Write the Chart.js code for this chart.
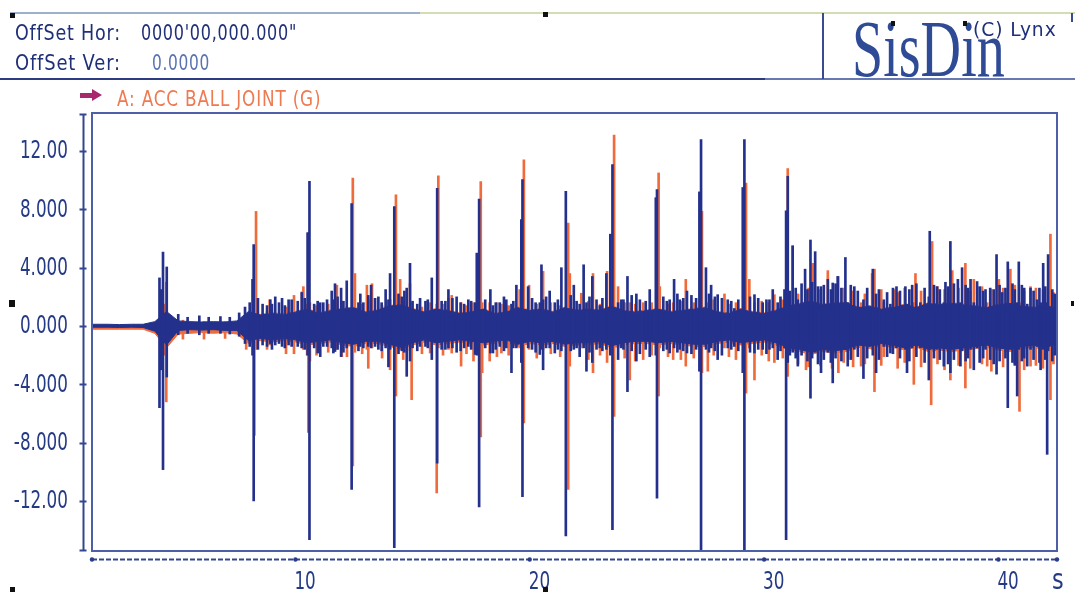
<!DOCTYPE html>
<html>
<head>
<meta charset="utf-8">
<script src="https://cdn.jsdelivr.net/npm/chart.js@4/dist/chart.umd.min.js"></script>
<style>
  html, body { margin:0; padding:0; background:#fff; }
  body { width:1075px; height:592px; position:relative; overflow:hidden; }
  #c { position:absolute; left:0; top:0; }
  .t { position:absolute; display:inline-block; white-space:nowrap; line-height:1; font-family:"DejaVu Sans",sans-serif; color:#1f2f78; transform-origin:0 0; }
  .ln { position:absolute; }
  .mk { position:absolute; width:5px; height:5px; background:#111; }
</style>
</head>
<body>
<canvas id="c" width="1075" height="592"></canvas>

<!-- header frame -->
<div class="ln" style="left:10px;top:12px;width:410px;height:2px;background:#9fb0cc"></div>
<div class="ln" style="left:420px;top:12px;width:655px;height:2px;background:#d3ddb4"></div>
<div class="ln" style="left:0px;top:78px;width:765px;height:2px;background:#2c3b82"></div>
<div class="ln" style="left:765px;top:78px;width:310px;height:2px;background:#6878b0"></div>
<div class="ln" style="left:822px;top:13px;width:2px;height:66px;background:#3a4a90"></div>
<div class="ln" style="left:1071px;top:13px;width:2px;height:9px;background:#3a4a90"></div>

<div class="t" data-w="106" style="left:15px;top:22px;font-size:22px;letter-spacing:1px">OffSet Hor:</div>
<div class="t" data-w="156" style="left:141px;top:22px;font-size:22px;letter-spacing:1px">0000'00,000.000"</div>
<div class="t" data-w="106" style="left:15px;top:52px;font-size:22px;letter-spacing:1px">OffSet Ver:</div>
<div class="t" data-w="58" style="left:152px;top:52px;font-size:22px;letter-spacing:1px;color:#5a72b0">0.0000</div>

<div class="t" data-w="153" data-sy="1.45" style="left:852px;top:30px;font-family:'Liberation Serif','DejaVu Serif',serif;font-size:55px;color:#2f4b96;transform-origin:0 46px">SisDin</div>
<div class="t" data-w="84" style="left:973px;top:19px;font-size:20px;letter-spacing:1px;color:#1f2f78">(C) Lynx</div>
<div class="mk" style="left:891px;top:21px;width:4px;height:5px"></div>
<div class="mk" style="left:963px;top:21px;width:4px;height:5px"></div>

<!-- legend -->
<div class="ln" style="left:80px;top:93px;width:12px;height:5px;background:#a8286e"></div>
<div class="ln" style="left:92px;top:89px;width:0;height:0;border-top:6.5px solid transparent;border-bottom:6.5px solid transparent;border-left:10px solid #a8286e"></div>
<div class="t" data-w="204" style="left:117px;top:89px;font-size:21px;letter-spacing:1px;color:#ee7a52">A: ACC BALL JOINT (G)</div>

<div class="t" data-w="12" style="left:1052px;top:566px;font-size:28px;color:#243a85">s</div>

<!-- scan markers -->
<div class="mk" style="left:10px;top:13px"></div>
<div class="mk" style="left:543px;top:12px"></div>
<div class="mk" style="left:9px;top:300px;width:6px;height:7px"></div>
<div class="mk" style="left:1071px;top:301px;width:3px"></div>
<div class="mk" style="left:10px;top:587px"></div>
<div class="mk" style="left:543px;top:587px"></div>

<script>
// ---------------- data ----------------
const xTickValues = [10, 20, 30, 40];
const xTickLabels = ['10', '20', '30', '40'];
const yTickValues = [12, 8, 4, 0, -4, -8, -12];
const yTickLabels = ['12.00', '8.000', '4.000', '0.000', '-4.000', '-8.000', '-12.00'];

// dense core of the signal, 0.5 s bins (time, s)
const coreT = [1.3,2.0,2.5,3.0,3.5,4.0,4.5,5.0,5.5,6.0,6.5,7.0,7.5,8.0,
  8.5,9.0,9.5,10.0,10.5,11.0,11.5,12.0,12.5,13.0,13.5,14.0,14.5,15.0,15.5,16.0,16.5,17.0,17.5,18.0,
  18.5,19.0,19.5,20.0,20.5,21.0,21.5,22.0,22.5,23.0,23.5,24.0,24.5,25.0,25.5,26.0,26.5,27.0,27.5,28.0,
  28.5,29.0,29.5,30.0,30.5,31.0,31.5,32.0,32.5,33.0,33.5,34.0,34.5,35.0,35.5,36.0,36.5,37.0,37.5,38.0,
  38.5,39.0,39.5,40.0,40.5,41.0,41.5,42.0,42.5];
const blueCoreHi = [0.12,0.12,0.1,0.12,0.12,0.3,1.0,0.35,0.3,0.28,0.3,0.28,0.35,1.0,
  0.75,0.85,0.75,0.95,1.15,0.85,1.05,1.15,1.25,0.95,1.05,1.35,1.45,1.15,0.95,1.15,1.05,0.85,0.95,1.15,
  0.85,0.95,1.25,1.05,1.15,0.95,1.25,1.05,1.15,1.05,1.35,1.05,0.95,1.05,1.15,0.95,1.05,1.15,1.25,0.95,
  0.85,1.15,0.95,0.85,1.05,1.35,1.5,1.7,1.45,1.55,1.6,1.25,1.35,1.15,1.25,1.45,1.25,1.55,1.45,1.55,
  1.45,1.35,1.25,1.45,1.55,1.35,1.25,1.45,1.15];
const blueCoreLo = [-0.08,-0.08,-0.1,-0.08,-0.1,-0.35,-1.3,-0.3,-0.25,-0.28,-0.25,-0.3,-0.3,-1.0,
  -0.85,-0.95,-0.85,-0.95,-1.15,-1.05,-0.95,-1.15,-1.25,-1.05,-1.05,-1.25,-1.45,-1.15,-0.95,-1.15,-1.05,-0.95,-1.05,-1.15,
  -1.05,-0.95,-1.25,-1.05,-1.15,-1.05,-1.25,-1.15,-1.15,-1.05,-1.35,-1.15,-1.05,-1.05,-1.15,-1.05,-1.15,-1.25,-1.25,-1.05,
  -0.95,-1.15,-1.05,-0.95,-1.15,-1.45,-1.6,-1.8,-1.6,-1.7,-1.6,-1.3,-1.4,-1.2,-1.3,-1.5,-1.3,-1.6,-1.5,-1.6,
  -1.5,-1.4,-1.3,-1.5,-1.6,-1.4,-1.3,-1.5,-1.2];
const orangeCoreHi = [0.0,0.0,0.0,0.0,0.0,0.2,0.8,0.2,0.15,0.15,0.12,0.15,0.2,0.9,
  0.8,0.9,0.85,1.0,1.2,0.9,1.1,1.2,1.3,1.0,1.1,1.4,1.5,1.2,1.0,1.2,1.1,0.9,1.0,1.2,
  0.9,1.0,1.3,1.1,1.2,1.0,1.3,1.1,1.2,1.1,1.4,1.1,1.0,1.1,1.2,1.0,1.1,1.2,1.3,1.0,
  0.9,1.2,1.0,0.9,1.1,1.4,1.55,1.75,1.5,1.6,1.65,1.3,1.4,1.2,1.3,1.5,1.3,1.6,1.5,1.6,
  1.5,1.4,1.3,1.5,1.6,1.4,1.3,1.5,1.2];
const orangeCoreLo = [-0.22,-0.22,-0.22,-0.22,-0.22,-0.5,-1.5,-0.55,-0.5,-0.45,-0.5,-0.45,-0.55,-1.2,
  -1.0,-1.1,-1.0,-1.1,-1.3,-1.2,-1.1,-1.3,-1.4,-1.2,-1.2,-1.4,-1.6,-1.3,-1.1,-1.3,-1.2,-1.1,-1.2,-1.3,
  -1.2,-1.1,-1.4,-1.2,-1.3,-1.2,-1.4,-1.3,-1.3,-1.2,-1.5,-1.3,-1.2,-1.2,-1.3,-1.2,-1.3,-1.4,-1.4,-1.2,
  -1.1,-1.3,-1.2,-1.1,-1.3,-1.6,-1.75,-1.95,-1.75,-1.85,-1.75,-1.45,-1.55,-1.35,-1.45,-1.65,-1.45,-1.75,-1.65,-1.75,
  -1.65,-1.55,-1.45,-1.65,-1.75,-1.55,-1.45,-1.65,-1.35];

// individual peaks (time s, max G, min G)
const blueSpikeT = [4.20,4.28,4.35,4.51,5.00,5.40,5.90,6.30,6.80,7.20,7.60,7.85,8.05,8.17,8.22,8.40,8.79,8.93,9.00,9.14,9.43,9.71,9.84,10.27,10.52,10.60,10.95,11.06,11.19,
  11.55,11.62,11.69,11.95,12.19,12.40,12.69,12.77,13.11,13.23,13.54,13.68,13.85,13.97,14.04,14.22,14.54,14.75,14.89,15.32,
  15.55,15.82,16.05,16.24,16.53,16.88,17.38,17.67,17.74,17.84,18.32,18.43,18.72,19.00,19.22,19.43,19.64,19.69,19.93,20.43,
  20.50,20.57,20.85,21.07,21.35,21.54,21.88,22.13,22.30,22.42,22.67,22.99,23.27,23.44,23.53,23.77,23.91,24.17,24.55,25.12,
  25.38,25.43,25.97,26.16,26.40,26.71,27.24,27.31,27.52,27.74,28.02,28.45,28.73,29.09,29.16,29.59,29.94,30.23,30.37,30.58,
  30.87,30.94,31.01,31.22,31.44,31.75,31.98,32.18,32.43,32.72,32.93,33.14,33.47,33.57,33.85,34.24,34.64,34.78,35.11,35.39,
  35.65,36.03,36.10,36.32,36.67,37.03,37.07,37.38,37.67,37.74,37.95,38.27,38.38,38.45,38.81,38.95,39.09,39.45,39.92,40.16,
  40.40,40.80,40.87,41.23,41.37,41.65,41.80,41.91,42.08,42.12];
const blueSpikeHi = [3.3,2.5,5.07,4.05,0.8,0.6,0.7,0.6,0.65,0.6,0.9,1.3,1.6,3.2,5.58,1.9,1.4,1.8,1.5,2.0,1.9,1.8,1.8,2.3,6.4,9.92,1.7,1.6,1.6,
  2.4,1.8,2.9,2.6,3.1,8.4,1.6,2.2,2.1,2.8,2.0,1.6,2.5,1.8,3.6,8.2,2.0,2.6,4.3,1.9,
  1.7,3.3,9.45,1.7,2.5,2.0,1.8,1.6,5.0,8.7,2.5,1.4,1.6,1.8,1.5,2.8,7.3,10.04,2.7,1.6,
  4.2,1.8,2.4,1.6,4.0,9.24,2.8,1.5,4.2,1.6,3.4,1.4,3.6,6.3,11.07,1.6,1.8,3.4,2.2,2.5,
  8.8,9.35,1.8,3.2,1.8,2.4,9.2,12.78,4.0,2.8,2.15,1.8,1.2,9.5,12.78,2.15,1.6,1.8,2.5,1.6,
  2.5,7.9,10.27,5.5,1.8,3.9,5.9,5.1,2.7,3.2,2.95,3.4,4.7,1.6,2.7,1.8,3.9,2.2,1.8,1.5,
  2.7,2.7,1.5,2.8,1.6,2.0,6.5,2.7,1.6,3.0,5.8,3.2,1.6,4.0,3.2,1.6,3.05,2.5,4.9,2.3,
  4.4,1.6,4.4,1.5,2.6,1.8,1.6,4.3,1.6,4.9];
const blueSpikeLo = [-5.6,-3.0,-9.85,-3.5,-0.6,-0.5,-0.6,-0.5,-0.5,-0.55,-0.7,-1.2,-1.4,-2.0,-12.0,-1.6,-1.4,-1.2,-1.6,-1.3,-1.4,-1.3,-1.4,-1.5,-2.0,-14.65,-1.85,-2.1,-1.4,
  -1.5,-1.85,-1.75,-2.1,-1.5,-11.2,-1.7,-1.4,-1.4,-1.5,-1.6,-1.7,-1.5,-2.8,-1.6,-15.2,-1.7,-3.45,-2.4,-1.4,
  -1.4,-2.3,-9.4,-1.6,-1.5,-1.8,-1.4,-1.95,-2.0,-12.4,-1.85,-1.85,-1.4,-1.5,-3.2,-1.5,-2.5,-11.7,-1.5,-1.95,
  -1.6,-3.0,-1.5,-1.85,-1.7,-14.4,-1.6,-2.1,-1.5,-3.1,-2.5,-1.5,-1.6,-2.0,-13.97,-2.3,-1.5,-4.5,-2.4,-2.1,
  -2.0,-11.8,-1.85,-1.5,-1.6,-1.85,-3.1,-15.5,-1.6,-1.5,-2.3,-1.5,-1.4,-3.2,-15.5,-1.85,-1.6,-1.6,-1.5,-2.3,
  -1.5,-14.65,-2.5,-1.8,-2.75,-1.6,-4.95,-1.8,-3.2,-1.8,-3.9,-1.6,-1.6,-2.75,-1.6,-3.6,-2.0,-3.2,-1.4,-1.85,
  -1.5,-1.6,-3.2,-1.5,-1.5,-3.7,-1.6,-1.6,-2.75,-1.4,-3.2,-1.5,-2.75,-1.7,-1.6,-3.0,-1.5,-1.6,-3.3,-1.5,
  -5.6,-4.8,-1.6,-2.75,-1.6,-1.4,-3.0,-1.6,-8.8,-1.7];

// smaller teeth on the dense band (time s, max G, min G)
const blueMinorT = [8.6,9.3,9.55,10.1,10.4,10.8,11.35,11.8,12.05,12.9,13.4,14.4,14.65,15.0,15.2,15.65,16.4,16.7,17.05,17.2,
  17.5,18.1,18.55,18.9,19.3,20.1,20.25,20.7,21.2,21.75,22.0,22.55,22.85,23.1,24.0,24.35,24.7,24.95,25.7,25.85,
  26.3,26.55,26.9,27.1,27.65,27.9,28.2,28.6,28.9,29.4,29.75,30.1,30.7,31.1,31.35,31.6,31.85,32.05,32.3,32.55,
  32.85,33.05,33.3,33.7,34.0,34.4,34.9,35.25,35.5,35.8,36.2,36.5,36.85,37.25,37.5,37.85,38.1,38.6,38.7,39.2,
  39.35,39.65,39.8,40.05,40.3,40.6,40.7,41.0,41.1,41.5,41.75,42.0,42.3,42.4];
const blueMinorHi = [1.5,1.6,1.4,1.7,1.9,1.5,1.8,2.0,1.7,1.6,1.9,2.2,2.4,1.7,1.5,1.8,1.7,1.9,1.6,1.5,
  1.7,1.8,1.6,2.0,1.7,1.9,1.6,2.0,1.8,2.1,1.7,2.0,1.8,1.9,1.8,2.1,1.8,1.7,2.0,1.7,
  2.2,1.9,2.1,1.9,2.2,2.0,1.9,1.7,1.8,2.0,1.9,1.8,2.0,2.4,2.6,2.9,2.5,3.0,2.7,2.8,
  2.5,2.9,2.6,2.8,2.4,2.6,2.5,2.3,2.6,2.4,2.5,2.9,2.6,2.8,2.5,2.7,2.9,2.8,2.6,2.7,
  2.4,2.6,2.5,2.8,2.6,2.9,2.5,2.8,2.6,2.4,2.6,2.7,2.5,2.2];
const blueMinorLo = [-1.3,-1.2,-1.5,-1.4,-1.6,-1.5,-1.4,-1.6,-1.8,-1.5,-1.4,-1.9,-1.8,-1.5,-1.7,-1.5,-1.6,-1.5,-1.7,-1.5,
  -1.6,-1.5,-1.6,-1.7,-1.5,-1.6,-1.8,-1.5,-1.6,-1.7,-1.5,-1.8,-1.6,-1.7,-1.6,-1.7,-1.9,-1.6,-1.7,-1.6,
  -1.8,-1.7,-1.9,-1.6,-1.8,-1.7,-2.0,-1.6,-1.7,-1.8,-1.6,-1.9,-1.7,-2.0,-2.2,-2.0,-2.4,-2.2,-2.6,-2.3,
  -2.5,-2.2,-2.4,-2.3,-2.1,-2.2,-2.3,-2.1,-1.9,-2.2,-2.4,-2.1,-2.5,-2.2,-2.3,-2.6,-2.3,-2.4,-2.2,-2.5,
  -2.2,-2.3,-2.6,-2.4,-2.2,-2.5,-2.7,-2.4,-2.2,-2.3,-2.5,-2.3,-2.4,-2.0];

const orangeSpikeT = [4.38,4.49,5.20,6.10,7.00,7.90,8.25,8.32,8.79,8.90,9.94,10.28,10.34,10.50,10.55,10.62,11.77,11.98,12.45,12.54,13.05,13.11,13.27,14.04,
  14.29,14.47,14.89,14.96,15.75,16.03,16.10,16.53,16.67,17.07,17.60,17.91,17.97,18.29,18.79,19.57,19.75,19.97,20.57,21.64,
  21.71,22.20,22.70,23.30,23.60,23.77,24.27,24.84,25.50,25.55,26.12,26.66,27.35,27.60,28.31,29.23,29.37,29.59,30.44,31.01,
  31.22,31.79,32.08,32.72,33.17,34.14,34.61,34.71,35.11,35.54,36.39,36.46,37.13,37.17,37.95,38.03,38.59,38.95,39.52,40.02,
  40.51,40.90,41.37,42.22];
const orangeSpikeHi = [1.5,3.0,0.4,0.3,0.3,0.8,2.0,7.86,1.0,1.8,2.1,2.35,2.7,1.5,6.4,1.6,2.8,1.7,10.15,3.6,2.8,1.8,2.9,1.8,
  9.0,3.2,2.9,1.6,1.6,1.5,10.3,1.9,2.1,1.6,1.6,9.9,1.6,1.6,1.5,2.5,11.4,2.8,3.75,7.06,
  3.6,2.25,3.6,3.75,13.1,2.7,1.6,1.6,10.5,2.7,1.6,3.2,7.86,1.6,2.2,9.8,3.2,1.6,2.15,10.8,
  5.5,1.6,4.3,3.8,3.4,1.6,3.6,3.9,1.6,2.5,1.6,3.6,1.6,5.8,1.6,3.8,4.3,3.2,1.6,3.2,
  3.9,1.6,2.7,6.3];
const orangeSpikeLo = [-2.0,-5.2,-0.9,-0.9,-0.85,-1.6,-7.5,-1.6,-1.6,-1.3,-1.9,-1.5,-1.6,-2.0,-7.3,-2.4,-1.6,-2.1,-9.6,-1.8,-1.6,-2.9,-1.5,-3.0,
  -4.8,-1.6,-1.7,-5.05,-1.85,-11.45,-1.5,-1.6,-1.85,-2.75,-2.4,-7.6,-3.2,-2.4,-1.85,-1.5,-6.65,-1.6,-1.6,-11.2,
  -2.75,-1.5,-3.2,-2.5,-6.2,-1.5,-3.7,-2.3,-4.8,-1.5,-2.3,-2.75,-3.2,-3.1,-1.5,-4.6,-1.5,-3.7,-2.5,-3.45,
  -1.6,-3.0,-1.6,-1.6,-3.2,-2.75,-1.6,-4.5,-2.1,-1.5,-4.0,-1.6,-5.4,-1.6,-3.7,-1.6,-4.25,-1.6,-2.75,-1.6,
  -1.6,-5.85,-2.75,-5.05];

const orangeMinorT = [9.6,10.9,11.4,12.2,12.85,13.7,14.6,15.4,16.3,17.3,18.6,19.1,20.3,20.9,21.3,22.5,23.0,24.05,24.5,25.2,
  25.9,26.45,27.0,27.85,28.5,28.8,29.9,30.2,30.8,31.45,31.9,32.4,32.9,33.4,33.8,34.3,35.0,35.7,36.0,36.7,
  37.4,37.7,38.3,38.8,39.3,39.7,40.2,40.7,41.1,41.6,41.9,42.35];
const orangeMinorHi = [1.3,1.4,1.5,1.3,1.5,1.4,1.6,1.3,1.5,1.4,1.6,1.4,1.5,1.6,1.4,1.7,1.5,1.6,1.5,1.6,
  1.5,1.7,1.6,1.8,1.5,1.6,1.7,1.6,1.8,2.2,2.6,2.5,2.3,2.6,2.4,2.2,2.5,2.3,2.6,2.4,
  2.7,2.5,2.6,2.4,2.7,2.5,2.6,2.8,2.4,2.6,2.5,2.3];
const orangeMinorLo = [-1.9,-2.0,-1.8,-2.1,-1.9,-2.2,-2.3,-1.9,-2.0,-1.9,-2.1,-2.0,-2.2,-1.9,-2.1,-2.3,-2.0,-2.2,-2.4,-2.0,
  -2.1,-2.3,-2.2,-2.0,-2.1,-2.3,-2.0,-2.4,-2.2,-2.6,-2.8,-2.7,-2.9,-2.5,-2.8,-2.6,-2.7,-2.9,-2.5,-2.8,
  -2.6,-3.0,-2.7,-2.9,-2.6,-3.1,-2.8,-2.6,-3.0,-2.7,-2.9,-2.6];

// ---------------- chart ----------------
const BLUE = '#24318c';
const ORANGE = '#f06b3c';
const LABEL_COLOR = '#243a85';
const LABEL_FONT = '24px "DejaVu Sans", sans-serif';
const LABEL_SX = 0.7;

const pts = (ts, ys) => ts.map((t, i) => ({ x: t, y: ys[i] }));
const bars = (ts, hi, lo) => ts.map((t, i) => ({ x: t, y: [lo[i], hi[i]] }));

function narrowText(ctx, text, x, y, align, baseline) {
  ctx.save();
  ctx.translate(x, y);
  ctx.scale(LABEL_SX, 1);
  ctx.textAlign = align;
  ctx.textBaseline = baseline;
  ctx.fillText(text, 0, 0);
  ctx.restore();
}

const frame = {
  id: 'frame',
  afterDraw(chart) {
    const { ctx, chartArea: a, scales: { x, y } } = chart;
    ctx.save();
    ctx.strokeStyle = '#4c60a8';
    ctx.lineWidth = 2;
    ctx.strokeRect(a.left, a.top, a.right - a.left, a.bottom - a.top);
    const ax = a.left - 8.5;
    ctx.strokeStyle = '#34468f';
    ctx.beginPath();
    ctx.moveTo(ax, a.top + 1); ctx.lineTo(ax, a.bottom - 1);
    [y.max - 0.1, ...yTickValues, y.min + 0.1].forEach(v => {
      const py = Math.round(y.getPixelForValue(v)) + 0.5;
      ctx.moveTo(ax - 4, py); ctx.lineTo(ax + 3, py);
    });
    ctx.stroke();
    const ay = a.bottom + 8.5;
    ctx.setLineDash([5, 2]);
    ctx.beginPath();
    ctx.moveTo(a.left, ay); ctx.lineTo(a.right, ay);
    ctx.stroke();
    ctx.setLineDash([]);
    ctx.fillStyle = '#2a3c88';
    [x.min, ...xTickValues, x.max].forEach(v => {
      const px = x.getPixelForValue(v);
      ctx.beginPath(); ctx.arc(px, ay, 2.2, 0, Math.PI * 2); ctx.fill();
    });
    ctx.fillStyle = LABEL_COLOR;
    ctx.font = LABEL_FONT;
    y.ticks.forEach((t, i) => {
      narrowText(ctx, yTickLabels[i], a.left - 24, y.getPixelForValue(t.value) + 1, 'right', 'middle');
    });
    x.ticks.forEach((t, i) => {
      narrowText(ctx, xTickLabels[i], x.getPixelForValue(t.value) - 1, 589, 'left', 'alphabetic');
    });
    ctx.restore();
  }
};

const barSet = (t, hi, lo, color, order) => ({ type: 'bar', data: bars(t, hi, lo), backgroundColor: color, barThickness: 2, grouped: false, order });

new Chart(document.getElementById('c'), {
  type: 'bar',
  data: {
    datasets: [
      barSet(blueSpikeT, blueSpikeHi, blueSpikeLo, BLUE, 1),
      barSet(blueMinorT, blueMinorHi, blueMinorLo, BLUE, 1),
      { type: 'line', data: pts(coreT, blueCoreHi), borderColor: BLUE, backgroundColor: BLUE, borderWidth: 1, pointRadius: 0, fill: '+1', order: 2 },
      { type: 'line', data: pts(coreT, blueCoreLo), borderColor: BLUE, borderWidth: 1, pointRadius: 0, fill: false, order: 2 },
      barSet(orangeSpikeT, orangeSpikeHi, orangeSpikeLo, ORANGE, 3),
      barSet(orangeMinorT, orangeMinorHi, orangeMinorLo, ORANGE, 3),
      { type: 'line', data: pts(coreT, orangeCoreHi), borderColor: ORANGE, backgroundColor: ORANGE, borderWidth: 1, pointRadius: 0, fill: '+1', order: 4 },
      { type: 'line', data: pts(coreT, orangeCoreLo), borderColor: ORANGE, borderWidth: 1, pointRadius: 0, fill: false, order: 4 }
    ]
  },
  options: {
    responsive: false,
    animation: false,
    devicePixelRatio: 1,
    layout: { padding: { left: 0, top: 113, right: 18, bottom: 0 } },
    plugins: { legend: { display: false }, tooltip: { enabled: false }, title: { display: false } },
    scales: {
      x: {
        type: 'linear', min: 1.32, max: 42.5, offset: false,
        grid: { display: false, drawTicks: false }, border: { display: false },
        afterBuildTicks: s => { s.ticks = xTickValues.map(v => ({ value: v })); },
        afterFit: s => { s.height = 41; },
        ticks: { display: false, autoSkip: false, callback: (v, i) => xTickLabels[i] }
      },
      y: {
        type: 'linear', min: -15.43, max: 14.61,
        grid: { display: false, drawTicks: false }, border: { display: false },
        afterBuildTicks: s => { s.ticks = yTickValues.map(v => ({ value: v })); },
        afterFit: s => { s.width = 92; },
        ticks: { display: false, autoSkip: false, callback: (v, i) => yTickLabels[i] }
      }
    }
  },
  plugins: [frame]
});

// fit the header lettering to the widths of the original narrow font
document.querySelectorAll('[data-w]').forEach(el => {
  const sx = parseFloat(el.dataset.w) / el.offsetWidth;
  const sy = el.dataset.sy ? parseFloat(el.dataset.sy) : 1;
  el.style.transform = 'scale(' + sx + ',' + sy + ')';
});
</script>
</body>
</html>
